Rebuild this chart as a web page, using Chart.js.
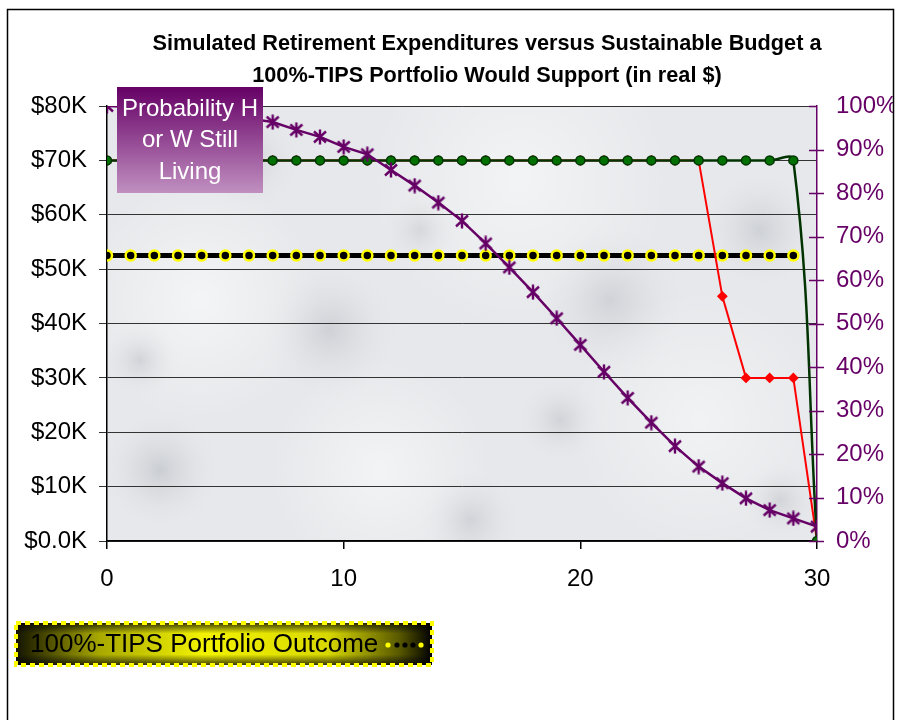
<!DOCTYPE html>
<html>
<head>
<meta charset="utf-8">
<script src="https://cdn.jsdelivr.net/npm/chart.js@4.4.0/dist/chart.umd.min.js"></script>
<style>
  body { margin: 0; background: #fff; }
  #wrap { width: 898px; height: 720px; }
</style>
</head>
<body>
<div id="wrap"><canvas id="grafico" width="898" height="720"></canvas></div>
<script>
// años de retiro
const years = [0, 1, 2, 3, 4, 5, 6, 7, 8, 9, 10, 11, 12, 13, 14, 15, 16, 17, 18, 19, 20, 21, 22, 23, 24, 25, 26, 27, 28, 29, 30];
// presupuesto sostenible 100%-TIPS (miles $)
const tipsBudget = [52.5, 52.5, 52.5, 52.5, 52.5, 52.5, 52.5, 52.5, 52.5, 52.5, 52.5, 52.5, 52.5, 52.5, 52.5, 52.5, 52.5, 52.5, 52.5, 52.5, 52.5, 52.5, 52.5, 52.5, 52.5, 52.5, 52.5, 52.5, 52.5, 52.5, null];
// gasto simulado (miles $)
const spendGreen = [70, 70, 70, 70, 70, 70, 70, 70, 70, 70, 70, 70, 70, 70, 70, 70, 70, 70, 70, 70, 70, 70, 70, 70, 70, 70, 70, 70, 70, 70, 0];
const spendRed = [70, 70, 70, 70, 70, 70, 70, 70, 70, 70, 70, 70, 70, 70, 70, 70, 70, 70, 70, 70, 70, 70, 70, 70, 70, 70, 45, 30, 30, 30, 0];
// probabilidad de que H o W siga vivo (%)
const probLiving = [100, 99.8, 99.5, 99.1, 98.5, 97.8, 97.1, 96.3, 94.5, 92.9, 90.6, 88.9, 85.3, 81.7, 77.8, 73.6, 68.4, 62.9, 57.2, 51.2, 45.1, 38.9, 32.9, 27.2, 21.8, 17.1, 13.3, 9.8, 7.1, 5.2, 3.3];
const dollarTicks = [0, 10, 20, 30, 40, 50, 60, 70, 80];
const pctTicks = [0, 10, 20, 30, 40, 50, 60, 70, 80, 90, 100];

const PURPLE = '#660066';

function pts(arr, k) {
    return years.map((x, i) => ({ x: x, y: arr[i] === null ? null : arr[i] * k }));
}

// marcador tipo asterisco de Excel
function starMarker() {
    const c = document.createElement('canvas');
    c.width = 16; c.height = 16;
    const g = c.getContext('2d');
    g.strokeStyle = PURPLE;
    g.lineWidth = 2.4;
    g.beginPath();
    g.moveTo(2, 2.5); g.lineTo(14, 13.5);
    g.moveTo(14, 2.5); g.lineTo(2, 13.5);
    g.moveTo(8, 0.5); g.lineTo(8, 15.5);
    g.stroke();
    return c;
}

const decor = {
    id: 'decor',
    beforeDraw(chart) {
        const ctx = chart.ctx;
        const a = chart.chartArea;
        ctx.save();
        ctx.fillStyle = '#fff';
        ctx.fillRect(0, 0, chart.width, chart.height);
        // fondo de marmol aproximado (manchas claras y oscuras)
        ctx.fillStyle = '#e6e8eb';
        ctx.fillRect(a.left, a.top, a.right - a.left, a.bottom - a.top);
        ctx.beginPath();
        ctx.rect(a.left, a.top, a.right - a.left, a.bottom - a.top);
        ctx.clip();
        const blobs = [
            [200, 300, 120, 'rgba(255,255,255,0.55)'], [520, 180, 150, 'rgba(255,255,255,0.5)'],
            [700, 420, 130, 'rgba(255,255,255,0.45)'], [380, 470, 110, 'rgba(255,255,255,0.5)'],
            [160, 470, 70, 'rgba(120,125,135,0.25)'], [330, 330, 80, 'rgba(120,125,135,0.22)'],
            [610, 300, 90, 'rgba(120,125,135,0.2)'], [760, 230, 70, 'rgba(120,125,135,0.22)'],
            [470, 520, 60, 'rgba(120,125,135,0.2)'], [250, 160, 60, 'rgba(120,125,135,0.18)'],
            [140, 360, 45, 'rgba(110,115,125,0.2)'], [560, 420, 50, 'rgba(110,115,125,0.18)'],
            [420, 230, 45, 'rgba(110,115,125,0.16)'], [780, 500, 45, 'rgba(110,115,125,0.18)']
        ];
        blobs.forEach(b => {
            const gr = ctx.createRadialGradient(b[0], b[1], 0, b[0], b[1], b[2]);
            gr.addColorStop(0, b[3]);
            gr.addColorStop(1, 'rgba(255,255,255,0)');
            ctx.fillStyle = gr;
            ctx.fillRect(b[0] - b[2], b[1] - b[2], b[2] * 2, b[2] * 2);
        });
        ctx.restore();
    },
    afterDraw(chart) {
        const ctx = chart.ctx;
        const a = chart.chartArea;
        const y1 = chart.scales.y1;
        ctx.save();
        // marcas del eje derecho (cruzan el eje)
        ctx.strokeStyle = PURPLE;
        ctx.lineWidth = 1.5;
        pctTicks.forEach(v => {
            const py = Math.round(y1.getPixelForValue(v)) + 0.5;
            ctx.beginPath();
            ctx.moveTo(a.right - 8, py);
            ctx.lineTo(a.right + (v === 100 ? 0 : 7), py);
            ctx.stroke();
        });

        // cuadro "Probability H or W Still Living"
        const bx = 117, by = 87, bw = 146, bh = 106;
        const gr = ctx.createLinearGradient(0, by, 0, by + bh);
        gr.addColorStop(0, '#660066');
        gr.addColorStop(1, '#c090c0');
        ctx.fillStyle = gr;
        ctx.fillRect(bx, by, bw, bh);
        ctx.fillStyle = '#fff';
        ctx.font = '24px "Liberation Sans", Arial, sans-serif';
        ctx.textAlign = 'center';
        ctx.textBaseline = 'middle';
        ['Probability H', 'or W Still', 'Living'].forEach((t, i) => ctx.fillText(t, bx + bw / 2, 109 + i * 31.5));

        // leyenda
        const lx = 16, ly = 623, lw = 416, lh = 42;
        const lg = ctx.createLinearGradient(lx, 0, lx + lw, 0);
        lg.addColorStop(0, '#141400');
        lg.addColorStop(0.2, '#a8a800');
        lg.addColorStop(0.45, '#f2f200');
        lg.addColorStop(0.75, '#d8d800');
        lg.addColorStop(0.92, '#5a5a00');
        lg.addColorStop(1, '#000');
        ctx.fillStyle = lg;
        ctx.fillRect(lx, ly, lw, lh);
        const vg = ctx.createLinearGradient(0, ly, 0, ly + lh);
        vg.addColorStop(0, 'rgba(0,0,0,0.75)');
        vg.addColorStop(0.25, 'rgba(0,0,0,0)');
        vg.addColorStop(0.75, 'rgba(0,0,0,0)');
        vg.addColorStop(1, 'rgba(0,0,0,0.75)');
        ctx.fillStyle = vg;
        ctx.fillRect(lx, ly, lw, lh);
        ctx.setLineDash([5, 4]);
        ctx.strokeStyle = '#ffff00';
        ctx.lineWidth = 4;
        ctx.strokeRect(lx, ly, lw, lh);
        ctx.setLineDash([]);
        ctx.fillStyle = '#000';
        ctx.font = '26px "Liberation Sans", Arial, sans-serif';
        ctx.textAlign = 'left';
        ctx.fillText('100%-TIPS Portfolio Outcome', 30, ly + lh / 2 + 1);
        [[388, '#ffff00'], [397, '#000'], [405, '#000'], [413, '#000'], [421, '#ffff00']].forEach(d => {
            ctx.beginPath();
            ctx.arc(d[0], ly + lh / 2 + 1, 2.6, 0, Math.PI * 2);
            ctx.fillStyle = d[1];
            ctx.fill();
        });

        // titulo
        ctx.fillStyle = '#000';
        ctx.font = 'bold 21.7px "Liberation Sans", Arial, sans-serif';
        ctx.textAlign = 'center';
        ctx.fillText('Simulated Retirement Expenditures versus Sustainable Budget a', 487, 44);
        ctx.fillText('100%-TIPS Portfolio Would Support (in real $)', 487, 76);

        // marco exterior
        ctx.fillStyle = '#fff';
        ctx.fillRect(894, 0, 4, chart.height);
        ctx.strokeStyle = '#000';
        ctx.lineWidth = 1.5;
        ctx.strokeRect(7.5, 9.5, 886, 730);
        ctx.restore();
    }
};

new Chart(document.getElementById('grafico'), {
    type: 'line',
    data: {
        datasets: [
            {
                label: 'Probability H or W Still Living',
                data: pts(probLiving, 1),
                yAxisID: 'y1',
                borderColor: PURPLE,
                borderWidth: 2.5,
                pointStyle: starMarker(),
                tension: 0
            },
            {
                label: 'Simulated spending A',
                data: pts(spendGreen, 1000),
                yAxisID: 'y',
                borderColor: '#003300',
                borderWidth: 2.5,
                pointBackgroundColor: '#007000',
                pointBorderColor: '#003300',
                pointBorderWidth: 1.5,
                pointRadius: 4.5,
                tension: 0.4
            },
            {
                label: 'Simulated spending B',
                data: pts(spendRed, 1000),
                yAxisID: 'y',
                borderColor: '#ff0000',
                borderWidth: 2,
                pointStyle: 'rectRot',
                pointBackgroundColor: '#ff0000',
                pointBorderColor: '#ff0000',
                pointRadius: 4,
                tension: 0
            },
            {
                label: '100%-TIPS Portfolio Outcome',
                data: pts(tipsBudget, 1000),
                yAxisID: 'y',
                borderColor: '#000',
                borderWidth: 5,
                pointBackgroundColor: '#000',
                pointBorderColor: '#ffff00',
                pointBorderWidth: 2.5,
                pointRadius: 5,
                tension: 0
            }
        ]
    },
    options: {
        responsive: false,
        animation: false,
        layout: { padding: { top: 106, left: 0, right: 0, bottom: 119 } },
        plugins: {
            legend: { display: false },
            title: { display: false },
            tooltip: { enabled: false }
        },
        scales: {
            x: {
                type: 'linear',
                min: 0,
                max: 30,
                afterFit: s => { s.height = 60; },
                ticks: { stepSize: 10, padding: 16, color: '#000', font: { family: '"Liberation Sans", Arial', size: 24 } },
                grid: { drawOnChartArea: false, tickLength: 8, color: '#000', lineWidth: 1.5 },
                border: { color: '#000', width: 1.5 }
            },
            y: {
                position: 'left',
                min: 0,
                max: 80000,
                afterFit: s => { s.width = 107; },
                afterBuildTicks: s => { s.ticks = dollarTicks.map(v => ({ value: v * 1000 })); },
                ticks: {
                    padding: 12,
                    color: '#000',
                    font: { family: '"Liberation Sans", Arial', size: 24 },
                    callback: v => v === 0 ? '$0.0K' : '$' + (v / 1000) + 'K'
                },
                grid: { color: '#333', lineWidth: 1, tickLength: 8 },
                border: { color: '#000', width: 1.5 }
            },
            y1: {
                position: 'right',
                min: 0,
                max: 100,
                afterFit: s => { s.width = 81; },
                afterBuildTicks: s => { s.ticks = pctTicks.map(v => ({ value: v })); },
                ticks: {
                    padding: 19,
                    color: PURPLE,
                    font: { family: '"Liberation Sans", Arial', size: 24 },
                    callback: v => v + '%'
                },
                grid: { display: false, drawTicks: false },
                border: { color: PURPLE, width: 1.5 }
            }
        }
    },
    plugins: [decor]
});
</script>
</body>
</html>
